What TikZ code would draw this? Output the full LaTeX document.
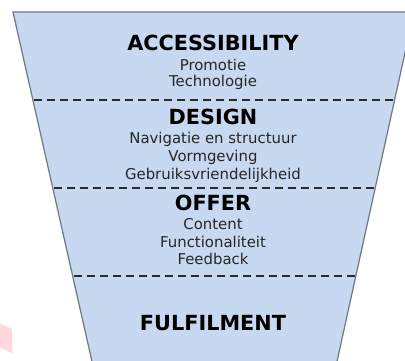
\documentclass[tikz,border=0pt]{standalone}
\usepackage{fontspec}
\setmainfont{DejaVu Sans}
\definecolor{funnelfill}{HTML}{C6D9F1}
\definecolor{funnelline}{HTML}{6E7883}
\definecolor{dashcol}{HTML}{2B2B2B}
\definecolor{pinkmark}{HTML}{FFD9DE}
\begin{document}
\begin{tikzpicture}[x=1pt,y=-1pt,
  head/.style={font=\fontsize{20.8}{22}\selectfont\bfseries, text=black, inner sep=0pt},
  item/.style={font=\fontsize{14.9}{17}\selectfont, text=black!85, inner sep=0pt},
  divider/.style={draw=dashcol, line width=1.6pt, dash pattern=on 8pt off 5pt}]
\useasboundingbox (0,0) rectangle (405,360);
\clip (0,0) rectangle (405,360);
\fill[white] (0,0) rectangle (405,360);
% funnel
\draw[fill=funnelfill, draw=funnelline, line width=1.2pt]
  (13,12) -- (414,12) -- (336,366) -- (93,366) -- cycle;
% pink mark
\fill[pinkmark] (-1,323) -- (12,329) -- (12,353) -- (-1,347) -- cycle;
% dividers
\coordinate (d1l) at (34,100); \coordinate (d1r) at (395,100);
\coordinate (d2l) at (54,188); \coordinate (d2r) at (375,188);
\coordinate (d3l) at (74,276); \coordinate (d3r) at (355,276);
\draw[divider] (d1l) -- (d1r);
\draw[divider] (d2l) -- (d2r);
\draw[divider] (d3l) -- (d3r);
% texts
\node[head] (acc) at (213,43) {ACCESSIBILITY};
\node[item] (prom) at (213,65) {Promotie};
\node[item] (tech) at (213,82) {Technologie};
\node[head] (des) at (213,117) {DESIGN};
\node[item] (nav) at (213,139) {Navigatie en structuur};
\node[item] (vorm) at (213,157) {Vormgeving};
\node[item] (gebr) at (213,175) {Gebruiksvriendelijkheid};
\node[head] (off) at (213,203) {OFFER};
\node[item] (cont) at (213,224) {Content};
\node[item] (func) at (213,242) {Functionaliteit};
\node[item] (feed) at (213,259) {Feedback};
\node[head] (ful) at (213,323) {FULFILMENT};
\end{tikzpicture}
\end{document}
